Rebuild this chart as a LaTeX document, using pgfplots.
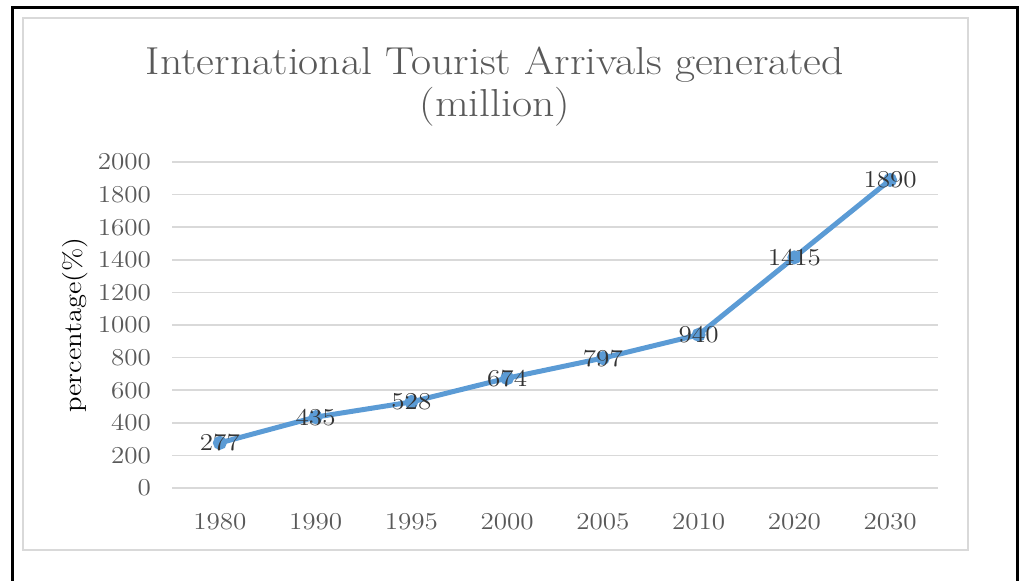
\documentclass[border=0pt]{standalone}
\usepackage{fontspec}
\setmainfont{Latin Modern Roman}[FakeStretch=1.12]
\usepackage{pgfplots}
\pgfplotsset{compat=1.18}
\definecolor{linebl}{HTML}{5B9BD5}
\definecolor{gridg}{HTML}{D9D9D9}
\definecolor{txtg}{HTML}{595959}
\definecolor{lblg}{HTML}{333333}
\begin{document}
\begin{tikzpicture}
\useasboundingbox (0,0) rectangle (510pt,290pt);
\draw[line width=1.5pt,black] (6pt,-5pt) -- (6pt,286pt) -- (508.5pt,286pt) -- (508.5pt,-5pt);
\draw[line width=0.75pt,gridg] (11.5pt,15pt) rectangle (484pt,281pt);
\node[text=txtg,align=center,font=\fontsize{19.5}{21}\selectfont] at (247.5pt,246.8pt) {International Tourist Arrivals generated\\(million)};
\begin{axis}[
  at={(86pt,46pt)}, anchor=south west,
  scale only axis, width=383pt, height=163pt,
  xmin=-0.5, xmax=7.5, ymin=0, ymax=2000,
  xtick={0,1,2,3,4,5,6,7},
  xticklabels={1980,1990,1995,2000,2005,2010,2020,2030},
  ytick={0,200,400,600,800,1000,1200,1400,1600,1800,2000},
  axis line style={draw=none},
  major tick length=0pt,
  ymajorgrids, grid style={gridg,line width=0.75pt},
  /pgf/number format/assume math mode=true,
  /pgf/number format/1000 sep={},
  ticklabel style={text=txtg,font=\fontsize{12.1}{13}\selectfont},
  yticklabel style={xshift=-7pt},
  xticklabel style={yshift=-9pt},
  ylabel={percentage(\%)},
  ylabel style={at={(axis description cs:-0.127,0.5)},anchor=center,text=black,font=\fontsize{12.75}{14}\selectfont},
  clip=false,
]
\addplot[color=linebl,line width=2.5pt,mark=*,mark size=2.2pt,mark options={fill=linebl,draw=linebl},
  nodes near coords, every node near coord/.append style={anchor=center,text=lblg,font=\fontsize{12.1}{13}\selectfont}]
  coordinates {(0,277) (1,435) (2,528) (3,674) (4,797) (5,940) (6,1415) (7,1890)};
\end{axis}
\end{tikzpicture}
\end{document}
